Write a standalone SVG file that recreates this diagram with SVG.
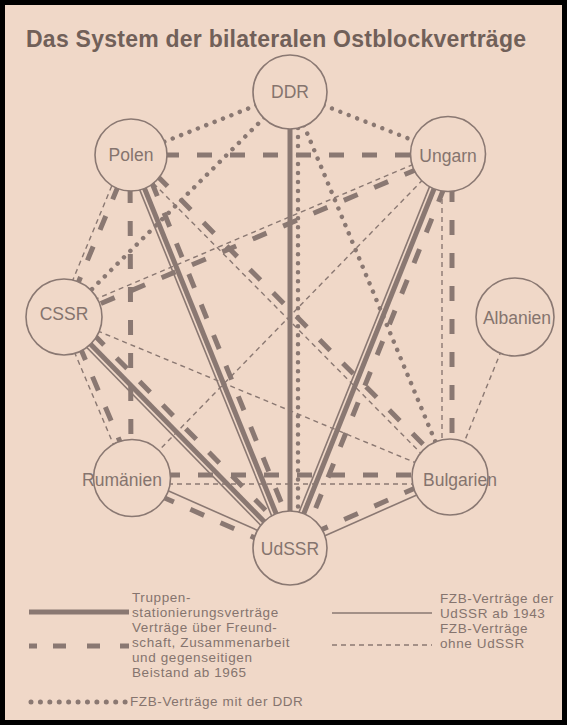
<svg xmlns="http://www.w3.org/2000/svg" width="567" height="725" viewBox="0 0 567 725">
<style>
.bg{fill:#f0d8c8}
.frame{fill:none;stroke:#000;stroke-width:5}
.title{font-family:"Liberation Sans",Arial,sans-serif;font-weight:bold;font-size:23px;fill:#716059}
.n circle{fill:#f0d8c8;stroke:#8a7872;stroke-width:1.6}
.n text{font-family:"Liberation Sans",Arial,sans-serif;font-size:17.5px;fill:#85746e;text-anchor:middle}
line,path{fill:none;stroke:#8a7872}
.ts{stroke-width:5}
.tn{stroke-width:1.6}
.td{stroke-width:5;stroke-dasharray:15 18}
.dt{stroke-width:4.5;stroke-dasharray:0.01 9;stroke-linecap:round}
.dd{stroke-width:1.4;stroke-dasharray:5 4}
.lg{font-family:"Liberation Sans",Arial,sans-serif;font-size:13.5px;letter-spacing:0.6px;fill:#85746e}
</style>
<rect class="bg" x="0" y="0" width="567" height="725"/>
<rect class="frame" x="2.5" y="2.5" width="562" height="720"/>
<text class="title" x="26" y="47" textLength="500" lengthAdjust="spacing">Das System der bilateralen Ostblockverträge</text>
<g id="connectors">
<line class="ts" x1="290" y1="92" x2="290" y2="548"/>
<line class="dt" x1="298" y1="92" x2="298" y2="548"/>
<line class="ts" x1="131" y1="155" x2="290" y2="548"/>
<line class="tn" x1="126.4" y1="156.9" x2="285.4" y2="549.9"/>
<line class="td" x1="139.3" y1="151.6" x2="298.3" y2="544.6"/>
<line class="ts" x1="448" y1="154" x2="290" y2="548"/>
<line class="tn" x1="443.4" y1="152.1" x2="285.4" y2="546.1"/>
<line class="td" x1="456.4" y1="157.3" x2="298.4" y2="551.3"/>
<line class="ts" x1="64" y1="317" x2="290" y2="548"/>
<line class="tn" x1="60.4" y1="320.5" x2="286.4" y2="551.5"/>
<line class="td" x1="70.4" y1="310.7" x2="296.4" y2="541.7"/>
<line class="tn" x1="133.2" y1="475.3" x2="291.2" y2="545.3"/>
<line class="td" x1="130" y1="482.6" x2="288" y2="552.6"/>
<line class="td" x1="448.4" y1="473.3" x2="288.4" y2="544.3"/>
<line class="tn" x1="451.2" y1="479.7" x2="291.2" y2="550.7"/>
<line class="td" x1="131" y1="155" x2="448" y2="155"/>
<line class="td" x1="132" y1="475" x2="450" y2="475"/>
<line class="dd" x1="132" y1="484" x2="450" y2="484"/>
<line class="td" x1="452" y1="154" x2="452" y2="477"/>
<line class="dd" x1="442" y1="154" x2="442" y2="477"/>
<line class="td" x1="130" y1="155" x2="131" y2="478"/>
<line class="td" x1="131" y1="155" x2="64" y2="317"/>
<line class="dd" x1="125.5" y1="152.7" x2="58.5" y2="314.7"/>
<line class="td" x1="133.8" y1="152.2" x2="452.8" y2="474.2"/>
<line class="dd" x1="128.2" y1="157.8" x2="447.2" y2="479.8"/>
<line class="td" x1="448.8" y1="155.8" x2="64.8" y2="318.8"/>
<line class="dd" x1="446.4" y1="150.3" x2="62.4" y2="313.3"/>
<line class="dd" x1="448" y1="154" x2="132" y2="478"/>
<line class="td" x1="66.8" y1="315.8" x2="134.8" y2="476.8"/>
<line class="dd" x1="60.3" y1="318.6" x2="128.3" y2="479.6"/>
<line class="dd" x1="64" y1="317" x2="450" y2="477"/>
<line class="dd" x1="515" y1="317" x2="450" y2="477"/>
<line class="dt" x1="290" y1="92" x2="131" y2="155"/>
<line class="dt" x1="290" y1="92" x2="448" y2="154"/>
<line class="dt" x1="290" y1="92" x2="64" y2="317"/>
<line class="dt" x1="290" y1="92" x2="450" y2="477"/>
</g>
<g id="DDR" class="n"><circle cx="290" cy="92" r="37"/><text x="290" y="98">DDR</text></g>
<g id="Polen" class="n"><circle cx="131" cy="155" r="36"/><text x="131" y="161">Polen</text></g>
<g id="Ungarn" class="n"><circle cx="448" cy="154" r="37.5"/><text x="448" y="162">Ungarn</text></g>
<g id="CSSR" class="n"><circle cx="64" cy="317" r="38"/><text x="64" y="320">CSSR</text></g>
<g id="Albanien" class="n"><circle cx="515" cy="317" r="39"/><text x="517" y="324">Albanien</text></g>
<g id="Rumaenien" class="n"><circle cx="132" cy="478" r="38.5"/><text x="122" y="486">Rumänien</text></g>
<g id="Bulgarien" class="n"><circle cx="450" cy="477" r="38"/><text x="460" y="486">Bulgarien</text></g>
<g id="UdSSR" class="n"><circle cx="290" cy="548" r="37"/><text x="290" y="555">UdSSR</text></g>
<g id="legend">
<line class="ts" x1="29" y1="612" x2="129" y2="612"/>
<text class="lg" x="132" y="602">Truppen-</text>
<text class="lg" x="132" y="617">stationierungsverträge</text>
<path class="ts" d="M29 646h8M53 646h13M87 646h13M120 646h9"/>
<text class="lg" x="132" y="632">Verträge über Freund-</text>
<text class="lg" x="132" y="647">schaft, Zusammenarbeit</text>
<text class="lg" x="132" y="662">und gegenseitigen</text>
<text class="lg" x="132" y="677">Beistand ab 1965</text>
<line class="dt" x1="31" y1="702" x2="126" y2="702" style="stroke-width:5;stroke-dasharray:0.01 9.4"/>
<text class="lg" x="130" y="706">FZB-Verträge mit der DDR</text>
<line class="tn" x1="332" y1="613" x2="432" y2="613"/>
<text class="lg" x="440" y="603">FZB-Verträge der</text>
<text class="lg" x="440" y="618">UdSSR ab 1943</text>
<line class="dd" x1="332" y1="645" x2="432" y2="645"/>
<text class="lg" x="440" y="633">FZB-Verträge</text>
<text class="lg" x="440" y="648">ohne UdSSR</text>
</g>
</svg>
